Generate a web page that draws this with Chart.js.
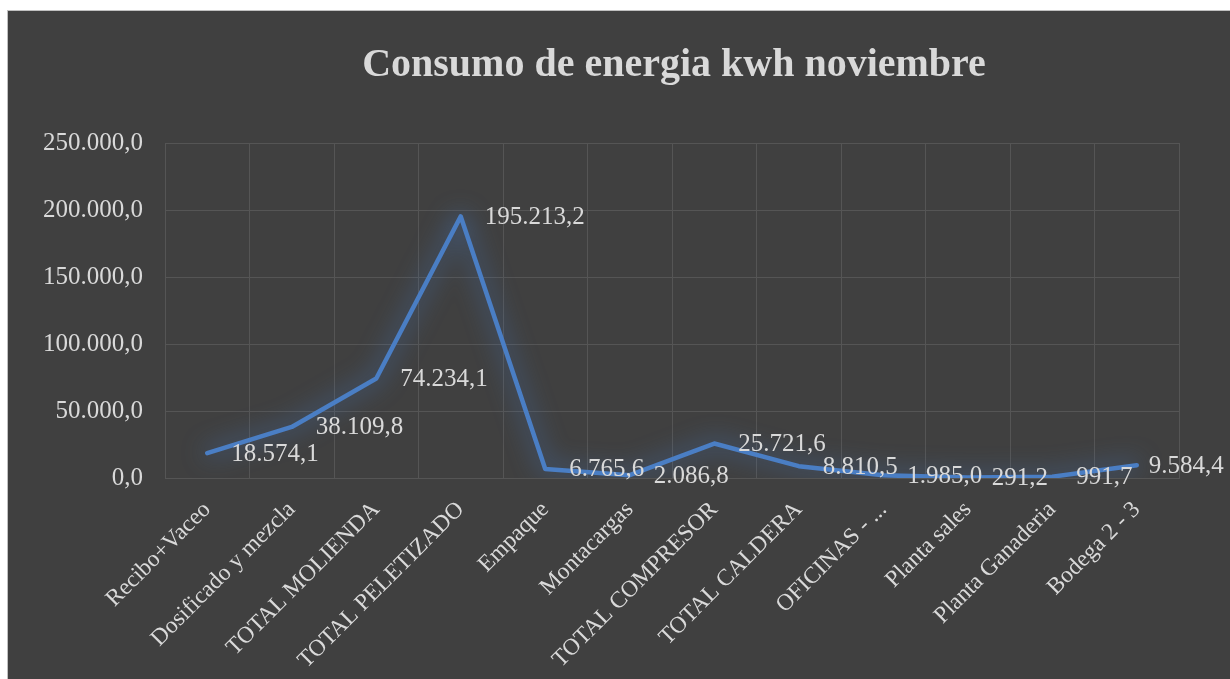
<!DOCTYPE html>
<html>
<head>
<meta charset="utf-8">
<script src="https://cdn.jsdelivr.net/npm/chart.js@4"></script>
<style>
  html, body { margin: 0; padding: 0; background: #ffffff; overflow: hidden; width: 1230px; height: 679px; }
  #wrap { position: absolute; left: 7px; top: 10px; width: 1332px; height: 680px; background: #404040;
          border-left: 1px solid #c0c0c0; border-top: 1px solid #c0c0c0; box-sizing: border-box; }
  canvas { position: absolute; left: 0; top: 0; }
</style>
</head>
<body>
<div id="wrap"><canvas id="c" width="1332" height="680"></canvas></div>
<script>
const categories = ["Recibo+Vaceo", "Dosificado y mezcla", "TOTAL MOLIENDA", "TOTAL PELETIZADO", "Empaque",
  "Montacargas", "TOTAL COMPRESOR", "TOTAL CALDERA", "OFICINAS - ...", "Planta sales", "Planta Ganaderia", "Bodega 2 - 3"];
const consumoKwh = [18574.1, 38109.8, 74234.1, 195213.2, 6765.6, 2086.8, 25721.6, 8810.5, 1985.0, 291.2, 991.7, 9584.4];
const yTicks = [0, 50000, 100000, 150000, 200000, 250000];
const titleText = "Consumo de energia kwh noviembre";

function fmt(v) {
  const s = Math.abs(v).toFixed(1);
  let [i, d] = s.split('.');
  i = i.replace(/\B(?=(\d{3})+(?!\d))/g, '.');
  return (v < 0 ? '-' : '') + i + ',' + d;
}

const TXT = '#d9d9d9';
const GRID = '#555555';
const FONT = 'Liberation Serif';

const glowPlugin = {
  id: 'glow',
  beforeDatasetDraw(chart) {
    const ctx = chart.ctx;
    ctx.save();
    ctx.shadowColor = 'rgba(70,120,190,1)';
    ctx.shadowBlur = 24;
  },
  afterDatasetDraw(chart) {
    chart.ctx.restore();
  }
};

const labelPlugin = {
  id: 'valueLabels',
  afterDatasetsDraw(chart) {
    const ctx = chart.ctx;
    const meta = chart.getDatasetMeta(0);
    ctx.save();
    ctx.fillStyle = TXT;
    ctx.font = '25px "' + FONT + '"';
    ctx.textAlign = 'left';
    ctx.textBaseline = 'middle';
    meta.data.forEach((pt, i) => {
      const dx = (i === meta.data.length - 1) ? 12 : 24;
      ctx.fillText(fmt(consumoKwh[i]), pt.x + dx, pt.y + 1);
    });
    ctx.restore();
  }
};

new Chart(document.getElementById('c'), {
  type: 'line',
  data: {
    labels: categories,
    datasets: [{
      data: consumoKwh,
      borderColor: '#4a7ec4',
      borderWidth: 4.5,
      tension: 0,
      pointRadius: 0,
      pointHoverRadius: 0,
      fill: false,
      borderJoinStyle: 'round',
      borderCapStyle: 'round',
      yAxisID: 'y'
    }]
  },
  options: {
    responsive: false,
    animation: false,
    devicePixelRatio: 1,
    layout: { padding: { left: 0, right: 0, top: 0, bottom: 0 } },
    plugins: {
      legend: { display: false },
      tooltip: { enabled: false },
      title: {
        display: true,
        text: titleText,
        color: TXT,
        font: { family: FONT, size: 40, weight: 'bold', lineHeight: 1.2 },
        padding: { top: 31, bottom: 53 }
      }
    },
    scales: {
      x: {
        type: 'category',
        offset: true,
        grid: { offset: true, color: GRID, lineWidth: 1, drawTicks: false },
        border: { color: GRID },
        ticks: {
          color: TXT,
          font: { family: FONT, size: 23.5 },
          maxRotation: 45,
          minRotation: 45,
          autoSkip: false,
          padding: 18
        },
        afterFit(scale) { scale.height = 213; }
      },
      y: {
        min: 0,
        max: 250000,
        afterBuildTicks(scale) { scale.ticks = yTicks.map(v => ({ value: v })); },
        grid: { color: GRID, lineWidth: 1, drawTicks: false },
        border: { color: GRID },
        ticks: {
          color: TXT,
          font: { family: FONT, size: 25 },
          padding: 22,
          callback: (v) => fmt(v)
        },
        afterFit(scale) { scale.width = 157; }
      },
      spacer: {
        position: 'right',
        min: 0,
        max: 1,
        grid: { display: false, drawTicks: false },
        border: { display: false },
        ticks: { display: false },
        afterFit(scale) { scale.width = 161; }
      }
    }
  },
  plugins: [glowPlugin, labelPlugin]
});
</script>
</body>
</html>
